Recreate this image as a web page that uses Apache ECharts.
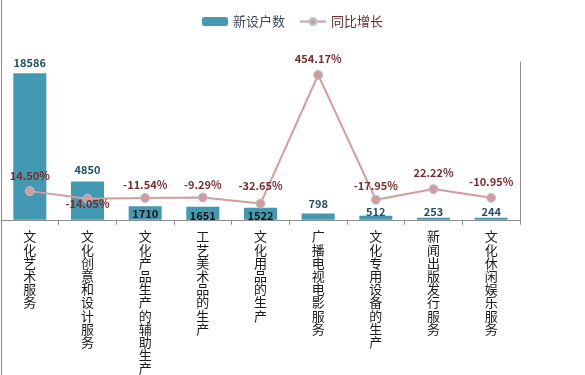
<!DOCTYPE html>
<html><head><meta charset="utf-8">
<script src="https://cdn.jsdelivr.net/npm/echarts@6/dist/echarts.min.js"></script>
<style>html,body{margin:0;padding:0;background:#fff}#c{width:585px;height:375px}</style>
</head><body><div id="c"></div>
<script>
const categories = ['文化艺术服务','文化创意和设计服务','文化产品生产的辅助生产','工艺美术品的生产','文化用品的生产','广播电视电影服务','文化专用设备的生产','新闻出版发行服务','文化休闲娱乐服务'];
const newHouseholds = [18586, 4850, 1710, 1651, 1522, 798, 512, 253, 244];
const yoyGrowth = [14.50, -14.05, -11.54, -9.29, -32.65, 454.17, -17.95, 22.22, -10.95];
// label offsets (layout only)
const barLabelOffsets = [0, -1, 18, 20, 18.5, 1, 7, 4.5, 4.5];
const barLabelInside = [false, false, true, true, true, false, false, false, false];
const lineLabelOffsets = [1, 22, 3, 4, -1, 0, 3, 0, 0];

const font = '"Noto Sans CJK SC", "Noto Sans", sans-serif';
const chart = echarts.init(document.getElementById('c'));
chart.setOption({
  animation: false,
  textStyle: { fontFamily: font },
  graphic: [{ type: 'line', shape: { x1: 1.5, y1: 0, x2: 1.5, y2: 375 }, style: { stroke: '#8c8c8c', lineWidth: 1 } }],
  legend: {
    top: 10, left: 'center', itemGap: 14, itemWidth: 26, itemHeight: 9,
    textStyle: { fontSize: 13, fontFamily: font },
    data: [
      { name: '新设户数', textStyle: { color: '#3c4a5a' } },
      { name: '同比增长', textStyle: { color: '#6a2a2a' } }
    ]
  },
  grid: { left: 1, right: 65, top: 62, bottom: 155, containLabel: false },
  xAxis: {
    type: 'category', data: categories,
    axisLine: { lineStyle: { color: '#8c8c8c' } },
    axisTick: { show: true, length: 5, lineStyle: { color: '#8c8c8c' } },
    axisLabel: {
      interval: 0, margin: 10, fontSize: 13, lineHeight: 13.2, color: '#1a1a1a', fontFamily: font,
      formatter: v => v.split('').join('\n')
    }
  },
  yAxis: [
    { type: 'value', min: 0, max: 20000, show: true, axisLine: { show: false }, axisTick: { show: false }, axisLabel: { show: false }, splitLine: { show: false } },
    { type: 'value', min: -94, max: 503, position: 'right', axisLine: { show: true, lineStyle: { color: '#8c8c8c' } }, axisTick: { show: false }, axisLabel: { show: false }, splitLine: { show: false } }
  ],
  series: [
    {
      name: '新设户数', type: 'bar', barWidth: 33, yAxisIndex: 0,
      itemStyle: { color: '#4399b1' },
      data: newHouseholds.map((v, i) => ({
        value: v,
        label: {
          show: true, position: 'top', distance: 5, offset: [0, barLabelOffsets[i]],
          fontSize: 11, fontWeight: 'bold', fontFamily: font,
          color: barLabelInside[i] ? '#111111' : '#1f4e69'
        }
      }))
    },
    {
      name: '同比增长', type: 'line', yAxisIndex: 1,
      symbol: 'circle', symbolSize: 9,
      lineStyle: { color: '#d69a9c', width: 2 },
      itemStyle: { color: '#d69a9c', borderColor: '#a8cbdc', borderWidth: 1 },
      data: yoyGrowth.map((v, i) => ({
        value: v,
        label: {
          show: true, position: 'top', distance: 6, offset: [0, lineLabelOffsets[i]],
          fontSize: 11, fontWeight: 'bold', fontFamily: font, color: '#7b2b2b',
          formatter: p => p.value.toFixed(2) + '%'
        }
      }))
    }
  ]
});
</script></body></html>
